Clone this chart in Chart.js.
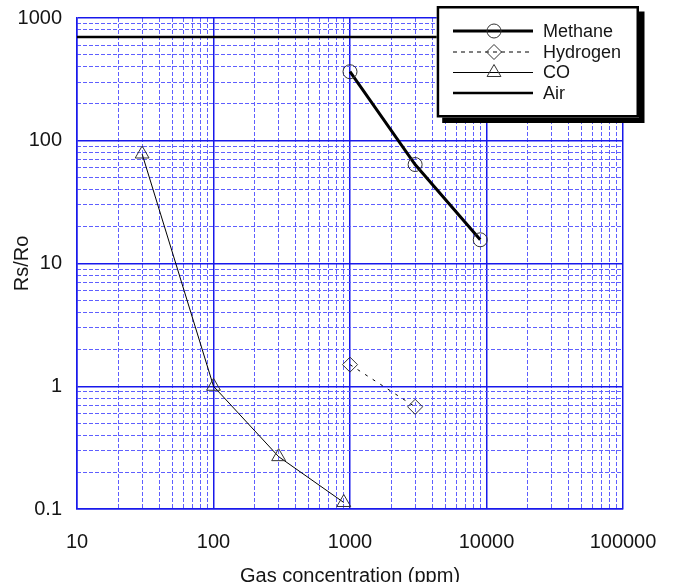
<!DOCTYPE html>
<html>
<head>
<meta charset="utf-8">
<script src="https://cdn.jsdelivr.net/npm/chart.js@4.4.1/dist/chart.umd.min.js"></script>
<style>
html,body{margin:0;padding:0;background:#fff;}
#wrap{width:673px;height:582px;}
</style>
</head>
<body>
<div id="wrap"><canvas id="c" width="673" height="582"></canvas></div>
<script>
// ---- data ----
const xDecades = [10, 100, 1000, 10000, 100000];
const yDecades = [0.1, 1, 10, 100, 1000];
const seriesNames = ['Methane', 'Hydrogen', 'CO', 'Air'];
const methaneX = [1000, 3000, 9000];
const methaneY = [365, 64, 15.6];
const hydrogenX = [1000, 3000];
const hydrogenY = [1.5, 0.68];
const coX = [30, 100, 300, 900];
const coY = [78, 1, 0.267, 0.113];
const airX = [10, 100000];
const airY = [700, 700];
const xTitle = 'Gas concentration (ppm)';
const yTitle = 'Rs/Ro';

// ---- styles ----
const FONT = '"Liberation Sans", Arial, Helvetica, sans-serif';
const MAJOR = 'rgb(25,25,235)';
const MINOR = 'rgb(95,95,255)';
const TRANSPARENT = 'rgba(0,0,0,0)';
const TEXT = '#151515';

function buildTicks(decades) {
  const t = [];
  decades.forEach((d, i) => {
    if (i < decades.length - 1) {
      for (let m = 1; m < 10; m++) t.push({ value: d * m, major: m === 1 });
    } else {
      t.push({ value: d, major: true });
    }
  });
  return t;
}
function pts(xs, ys) { return xs.map((x, i) => ({ x: x, y: ys[i] })); }

const majorGrid = c => (c.tick && c.tick.major) ? MAJOR : TRANSPARENT;
const minorGrid = c => (c.tick && !c.tick.major) ? MINOR : TRANSPARENT;
const labelCb = (v, i, t) => (t[i] && t[i].major) ? String(v) : '';
function fitH(h) { return s => { s.height = h; s.paddingLeft = 0; s.paddingRight = 0; s.paddingTop = 0; s.paddingBottom = 0; }; }
function fitW(w) { return s => { s.width = w; s.paddingLeft = 0; s.paddingRight = 0; s.paddingTop = 0; s.paddingBottom = 0; }; }

const styles = [
  { borderWidth: 3, borderDash: [], pointStyle: 'circle', radius: 7 },
  { borderWidth: 1, borderDash: [3, 6], pointStyle: 'rectRot', radius: 7.5 },
  { borderWidth: 1, borderDash: [], pointStyle: 'triangle', radius: 8 },
  { borderWidth: 2.5, borderDash: [], pointStyle: false, radius: 0 }
];
const seriesData = [pts(methaneX, methaneY), pts(hydrogenX, hydrogenY), pts(coX, coY), pts(airX, airY)];

const datasets = seriesNames.map((name, i) => ({
  label: name,
  data: seriesData[i],
  borderColor: '#000',
  borderWidth: styles[i].borderWidth,
  borderDash: styles[i].borderDash,
  pointStyle: styles[i].pointStyle || 'circle',
  pointRadius: styles[i].radius,
  pointBorderColor: '#333',
  pointBorderWidth: 1,
  pointBackgroundColor: TRANSPARENT,
  tension: 0,
  fill: false,
  clip: false,
  xAxisID: 'x',
  yAxisID: 'y'
}));

const legendBox = {
  id: 'legendBox',
  afterDraw(chart) {
    const ctx = chart.ctx;
    ctx.save();
    const bx = 436.7, by = 6, bw = 202.3, bh = 111.5;
    ctx.fillStyle = '#000';
    ctx.fillRect(bx + 5.5, by + 5.5, bw, bh);
    ctx.fillStyle = '#fff';
    ctx.fillRect(bx, by, bw, bh);
    ctx.strokeStyle = '#000';
    ctx.lineWidth = 2.5;
    ctx.strokeRect(bx + 1.25, by + 1.25, bw - 2.5, bh - 2.5);
    const rows = [31, 52, 72.5, 93];
    const legendDash = [[], [4, 4], [], []];
    seriesNames.forEach((name, i) => {
      const y = rows[i];
      ctx.beginPath();
      ctx.setLineDash(legendDash[i]);
      ctx.lineWidth = styles[i].borderWidth;
      ctx.strokeStyle = '#000';
      ctx.moveTo(453, y);
      ctx.lineTo(533, y);
      ctx.stroke();
      ctx.setLineDash([]);
      if (styles[i].pointStyle) {
        ctx.strokeStyle = '#333';
        ctx.fillStyle = TRANSPARENT;
        ctx.lineWidth = 1;
        Chart.helpers.drawPoint(ctx, { pointStyle: styles[i].pointStyle, radius: styles[i].radius, rotation: 0, borderWidth: 1 }, 494, y);
      }
      ctx.fillStyle = TEXT;
      ctx.font = '18px ' + FONT;
      ctx.textAlign = 'left';
      ctx.textBaseline = 'middle';
      ctx.fillText(name, 543, y + 1);
    });
    ctx.restore();
  }
};

new Chart(document.getElementById('c'), {
  type: 'line',
  data: { datasets: datasets },
  plugins: [legendBox],
  options: {
    responsive: false,
    animation: false,
    events: [],
    devicePixelRatio: 1,
    layout: { padding: { top: 18, right: 50, left: 0, bottom: 0 } },
    plugins: { legend: { display: false }, tooltip: { enabled: false } },
    scales: {
      x: {
        type: 'logarithmic', position: 'bottom', min: 10, max: 100000,
        afterBuildTicks: s => { s.ticks = buildTicks(xDecades); },
        afterFit: fitH(73),
        ticks: { autoSkip: false, maxRotation: 0, padding: 21, color: TEXT, font: { size: 20, family: FONT }, callback: labelCb },
        grid: { drawTicks: false, color: majorGrid, lineWidth: 1.5 },
        border: { color: MAJOR, width: 1.5 },
        title: { display: true, text: xTitle, color: TEXT, font: { size: 20, family: FONT, lineHeight: 1 }, padding: { top: 0, bottom: -4 } }
      },
      x2: {
        type: 'logarithmic', position: 'bottom', min: 10, max: 100000,
        afterBuildTicks: s => { s.ticks = buildTicks(xDecades); },
        afterFit: fitH(0),
        ticks: { display: false, autoSkip: false },
        grid: { drawTicks: false, color: minorGrid, lineWidth: 1 },
        border: { display: false, dash: [4, 2] }
      },
      y: {
        type: 'logarithmic', position: 'left', min: 0.1, max: 1000,
        afterBuildTicks: s => { s.ticks = buildTicks(yDecades); },
        afterFit: fitW(77),
        ticks: { autoSkip: false, padding: 15, color: TEXT, font: { size: 20, family: FONT }, callback: labelCb },
        grid: { drawTicks: false, color: majorGrid, lineWidth: 1.5 },
        border: { color: MAJOR, width: 1.5 },
        title: { display: true, text: yTitle, color: TEXT, font: { size: 20, family: FONT, lineHeight: 1 }, padding: { top: 12, bottom: 0 } }
      },
      y2: {
        type: 'logarithmic', position: 'left', min: 0.1, max: 1000,
        afterBuildTicks: s => { s.ticks = buildTicks(yDecades); },
        afterFit: fitW(0),
        ticks: { display: false, autoSkip: false },
        grid: { drawTicks: false, color: minorGrid, lineWidth: 1 },
        border: { display: false, dash: [4, 2] }
      }
    }
  }
});
</script>
</body>
</html>
